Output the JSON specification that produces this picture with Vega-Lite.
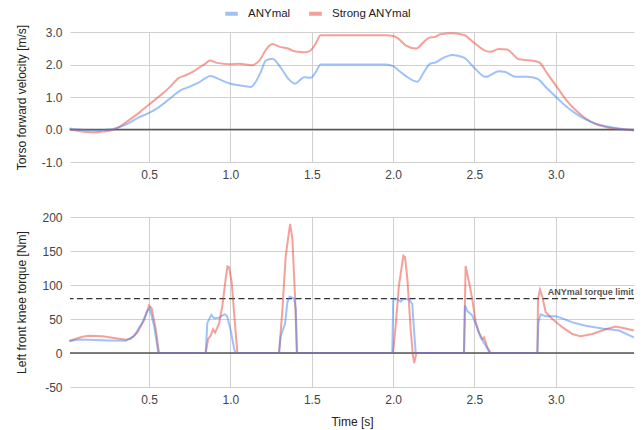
{
  "$schema": "https://vega.github.io/schema/vega-lite/v6.json",
  "padding": {"left": 15, "top": 5, "right": 8, "bottom": 5},
  "config": {
    "view": {"stroke": null},
    "font": "Liberation Sans",
    "axis": {"labelFont": "Liberation Sans", "labelFontSize": 12, "labelColor": "#444", "titleFont": "Liberation Sans", "titleFontSize": 12, "titleFontWeight": "normal", "titleColor": "#222", "gridColor": "#d0d0d0", "domain": false, "ticks": false, "labelPadding": 8, "labelOverlap": false},
    "legend": {"labelFont": "Liberation Sans", "labelFontSize": 11.5, "labelColor": "#222"}
  },
  "spacing": 31,
  "datasets": {
    "vel": [
      {"time":0.01,"robot":"Strong ANYmal","value":0.0},{"time":0.06,"robot":"Strong ANYmal","value":-0.04},{"time":0.10,"robot":"Strong ANYmal","value":-0.07},{"time":0.16,"robot":"Strong ANYmal","value":-0.09},{"time":0.22,"robot":"Strong ANYmal","value":-0.06},{"time":0.285,"robot":"Strong ANYmal","value":0.0},{"time":0.33,"robot":"Strong ANYmal","value":0.12},{"time":0.377,"robot":"Strong ANYmal","value":0.29},{"time":0.44,"robot":"Strong ANYmal","value":0.52},{"time":0.50,"robot":"Strong ANYmal","value":0.77},{"time":0.58,"robot":"Strong ANYmal","value":1.09},{"time":0.63,"robot":"Strong ANYmal","value":1.32},{"time":0.684,"robot":"Strong ANYmal","value":1.59},{"time":0.725,"robot":"Strong ANYmal","value":1.67},{"time":0.77,"robot":"Strong ANYmal","value":1.78},{"time":0.807,"robot":"Strong ANYmal","value":1.90},{"time":0.845,"robot":"Strong ANYmal","value":2.02},{"time":0.873,"robot":"Strong ANYmal","value":2.12},{"time":0.92,"robot":"Strong ANYmal","value":2.05},{"time":1.0,"robot":"Strong ANYmal","value":2.01},{"time":1.053,"robot":"Strong ANYmal","value":2.02},{"time":1.135,"robot":"Strong ANYmal","value":1.98},{"time":1.176,"robot":"Strong ANYmal","value":2.11},{"time":1.227,"robot":"Strong ANYmal","value":2.51},{"time":1.258,"robot":"Strong ANYmal","value":2.63},{"time":1.30,"robot":"Strong ANYmal","value":2.55},{"time":1.35,"robot":"Strong ANYmal","value":2.50},{"time":1.40,"robot":"Strong ANYmal","value":2.40},{"time":1.463,"robot":"Strong ANYmal","value":2.38},{"time":1.494,"robot":"Strong ANYmal","value":2.44},{"time":1.525,"robot":"Strong ANYmal","value":2.65},{"time":1.555,"robot":"Strong ANYmal","value":2.90},{"time":1.80,"robot":"Strong ANYmal","value":2.90},{"time":1.955,"robot":"Strong ANYmal","value":2.90},{"time":2.006,"robot":"Strong ANYmal","value":2.87},{"time":2.036,"robot":"Strong ANYmal","value":2.78},{"time":2.077,"robot":"Strong ANYmal","value":2.59},{"time":2.143,"robot":"Strong ANYmal","value":2.49},{"time":2.18,"robot":"Strong ANYmal","value":2.65},{"time":2.22,"robot":"Strong ANYmal","value":2.82},{"time":2.26,"robot":"Strong ANYmal","value":2.85},{"time":2.29,"robot":"Strong ANYmal","value":2.93},{"time":2.365,"robot":"Strong ANYmal","value":2.96},{"time":2.436,"robot":"Strong ANYmal","value":2.91},{"time":2.497,"robot":"Strong ANYmal","value":2.67},{"time":2.569,"robot":"Strong ANYmal","value":2.42},{"time":2.60,"robot":"Strong ANYmal","value":2.39},{"time":2.65,"robot":"Strong ANYmal","value":2.48},{"time":2.70,"robot":"Strong ANYmal","value":2.46},{"time":2.774,"robot":"Strong ANYmal","value":2.16},{"time":2.835,"robot":"Strong ANYmal","value":2.13},{"time":2.897,"robot":"Strong ANYmal","value":2.07},{"time":2.948,"robot":"Strong ANYmal","value":1.72},{"time":3.0,"robot":"Strong ANYmal","value":1.36},{"time":3.061,"robot":"Strong ANYmal","value":0.93},{"time":3.123,"robot":"Strong ANYmal","value":0.59},{"time":3.184,"robot":"Strong ANYmal","value":0.34},{"time":3.245,"robot":"Strong ANYmal","value":0.17},{"time":3.307,"robot":"Strong ANYmal","value":0.08},{"time":3.368,"robot":"Strong ANYmal","value":0.03},{"time":3.43,"robot":"Strong ANYmal","value":-0.01},{"time":3.48,"robot":"Strong ANYmal","value":-0.03},
      {"time":0.01,"robot":"ANYmal","value":0.03},{"time":0.08,"robot":"ANYmal","value":-0.01},{"time":0.152,"robot":"ANYmal","value":-0.03},{"time":0.254,"robot":"ANYmal","value":0.0},{"time":0.357,"robot":"ANYmal","value":0.15},{"time":0.44,"robot":"ANYmal","value":0.38},{"time":0.50,"robot":"ANYmal","value":0.51},{"time":0.561,"robot":"ANYmal","value":0.69},{"time":0.623,"robot":"ANYmal","value":0.93},{"time":0.695,"robot":"ANYmal","value":1.21},{"time":0.746,"robot":"ANYmal","value":1.31},{"time":0.807,"robot":"ANYmal","value":1.45},{"time":0.879,"robot":"ANYmal","value":1.65},{"time":0.93,"robot":"ANYmal","value":1.55},{"time":1.0,"robot":"ANYmal","value":1.41},{"time":1.053,"robot":"ANYmal","value":1.36},{"time":1.125,"robot":"ANYmal","value":1.31},{"time":1.156,"robot":"ANYmal","value":1.47},{"time":1.187,"robot":"ANYmal","value":1.77},{"time":1.217,"robot":"ANYmal","value":2.12},{"time":1.258,"robot":"ANYmal","value":2.18},{"time":1.31,"robot":"ANYmal","value":1.90},{"time":1.36,"robot":"ANYmal","value":1.54},{"time":1.398,"robot":"ANYmal","value":1.41},{"time":1.453,"robot":"ANYmal","value":1.61},{"time":1.494,"robot":"ANYmal","value":1.59},{"time":1.525,"robot":"ANYmal","value":1.77},{"time":1.555,"robot":"ANYmal","value":2.0},{"time":1.955,"robot":"ANYmal","value":2.0},{"time":2.0,"robot":"ANYmal","value":1.95},{"time":2.036,"robot":"ANYmal","value":1.81},{"time":2.077,"robot":"ANYmal","value":1.65},{"time":2.15,"robot":"ANYmal","value":1.47},{"time":2.19,"robot":"ANYmal","value":1.77},{"time":2.23,"robot":"ANYmal","value":2.03},{"time":2.26,"robot":"ANYmal","value":2.06},{"time":2.30,"robot":"ANYmal","value":2.18},{"time":2.365,"robot":"ANYmal","value":2.29},{"time":2.436,"robot":"ANYmal","value":2.21},{"time":2.497,"robot":"ANYmal","value":1.91},{"time":2.569,"robot":"ANYmal","value":1.62},{"time":2.65,"robot":"ANYmal","value":1.79},{"time":2.69,"robot":"ANYmal","value":1.77},{"time":2.753,"robot":"ANYmal","value":1.62},{"time":2.825,"robot":"ANYmal","value":1.62},{"time":2.887,"robot":"ANYmal","value":1.56},{"time":2.938,"robot":"ANYmal","value":1.31},{"time":3.0,"robot":"ANYmal","value":1.01},{"time":3.061,"robot":"ANYmal","value":0.72},{"time":3.123,"robot":"ANYmal","value":0.49},{"time":3.184,"robot":"ANYmal","value":0.31},{"time":3.245,"robot":"ANYmal","value":0.18},{"time":3.307,"robot":"ANYmal","value":0.10},{"time":3.368,"robot":"ANYmal","value":0.05},{"time":3.43,"robot":"ANYmal","value":0.01},{"time":3.48,"robot":"ANYmal","value":-0.02}
    ],
    "tor": [
      {"time":0.01,"robot":"Strong ANYmal","value":17.6},{"time":0.05,"robot":"Strong ANYmal","value":21},{"time":0.09,"robot":"Strong ANYmal","value":24},{"time":0.131,"robot":"Strong ANYmal","value":25.5},{"time":0.213,"robot":"Strong ANYmal","value":24.5},{"time":0.295,"robot":"Strong ANYmal","value":21.6},{"time":0.357,"robot":"Strong ANYmal","value":19.6},{"time":0.387,"robot":"Strong ANYmal","value":21},{"time":0.428,"robot":"Strong ANYmal","value":30},{"time":0.469,"robot":"Strong ANYmal","value":48},{"time":0.50,"robot":"Strong ANYmal","value":69.6},{"time":0.516,"robot":"Strong ANYmal","value":65.7},{"time":0.541,"robot":"Strong ANYmal","value":35},{"time":0.561,"robot":"Strong ANYmal","value":0},{"time":0.848,"robot":"Strong ANYmal","value":0},{"time":0.863,"robot":"Strong ANYmal","value":20.6},{"time":0.879,"robot":"Strong ANYmal","value":25.5},{"time":0.893,"robot":"Strong ANYmal","value":35},{"time":0.906,"robot":"Strong ANYmal","value":30},{"time":0.93,"robot":"Strong ANYmal","value":42.6},{"time":0.951,"robot":"Strong ANYmal","value":70},{"time":0.971,"robot":"Strong ANYmal","value":109},{"time":0.982,"robot":"Strong ANYmal","value":127.5},{"time":0.992,"robot":"Strong ANYmal","value":126},{"time":1.008,"robot":"Strong ANYmal","value":104},{"time":1.029,"robot":"Strong ANYmal","value":40},{"time":1.043,"robot":"Strong ANYmal","value":0},{"time":1.299,"robot":"Strong ANYmal","value":0},{"time":1.32,"robot":"Strong ANYmal","value":65},{"time":1.34,"robot":"Strong ANYmal","value":143},{"time":1.367,"robot":"Strong ANYmal","value":190},{"time":1.381,"robot":"Strong ANYmal","value":168},{"time":1.398,"robot":"Strong ANYmal","value":79},{"time":1.408,"robot":"Strong ANYmal","value":0},{"time":2.0,"robot":"Strong ANYmal","value":0},{"time":2.016,"robot":"Strong ANYmal","value":40},{"time":2.036,"robot":"Strong ANYmal","value":99},{"time":2.063,"robot":"Strong ANYmal","value":143},{"time":2.073,"robot":"Strong ANYmal","value":141},{"time":2.088,"robot":"Strong ANYmal","value":109},{"time":2.108,"robot":"Strong ANYmal","value":35},{"time":2.122,"robot":"Strong ANYmal","value":-4},{"time":2.13,"robot":"Strong ANYmal","value":-14.7},{"time":2.143,"robot":"Strong ANYmal","value":0},{"time":2.436,"robot":"Strong ANYmal","value":0},{"time":2.446,"robot":"Strong ANYmal","value":128},{"time":2.467,"robot":"Strong ANYmal","value":104},{"time":2.487,"robot":"Strong ANYmal","value":79},{"time":2.508,"robot":"Strong ANYmal","value":45},{"time":2.528,"robot":"Strong ANYmal","value":30},{"time":2.549,"robot":"Strong ANYmal","value":20.6},{"time":2.559,"robot":"Strong ANYmal","value":23},{"time":2.58,"robot":"Strong ANYmal","value":8},{"time":2.60,"robot":"Strong ANYmal","value":0},{"time":2.887,"robot":"Strong ANYmal","value":0},{"time":2.891,"robot":"Strong ANYmal","value":79},{"time":2.903,"robot":"Strong ANYmal","value":93},{"time":2.918,"robot":"Strong ANYmal","value":82},{"time":2.938,"robot":"Strong ANYmal","value":60},{"time":2.979,"robot":"Strong ANYmal","value":50},{"time":3.04,"robot":"Strong ANYmal","value":38},{"time":3.102,"robot":"Strong ANYmal","value":28},{"time":3.153,"robot":"Strong ANYmal","value":24.5},{"time":3.225,"robot":"Strong ANYmal","value":28},{"time":3.307,"robot":"Strong ANYmal","value":35},{"time":3.368,"robot":"Strong ANYmal","value":39},{"time":3.43,"robot":"Strong ANYmal","value":36},{"time":3.48,"robot":"Strong ANYmal","value":33},
      {"time":0.01,"robot":"ANYmal","value":17.6},{"time":0.07,"robot":"ANYmal","value":20},{"time":0.13,"robot":"ANYmal","value":19.6},{"time":0.25,"robot":"ANYmal","value":18.5},{"time":0.357,"robot":"ANYmal","value":18},{"time":0.408,"robot":"ANYmal","value":25},{"time":0.459,"robot":"ANYmal","value":45},{"time":0.49,"robot":"ANYmal","value":62},{"time":0.504,"robot":"ANYmal","value":65.7},{"time":0.531,"robot":"ANYmal","value":40},{"time":0.557,"robot":"ANYmal","value":0},{"time":0.848,"robot":"ANYmal","value":0},{"time":0.858,"robot":"ANYmal","value":44},{"time":0.883,"robot":"ANYmal","value":56},{"time":0.90,"robot":"ANYmal","value":51},{"time":0.93,"robot":"ANYmal","value":52},{"time":0.965,"robot":"ANYmal","value":57},{"time":0.98,"robot":"ANYmal","value":54},{"time":1.002,"robot":"ANYmal","value":33},{"time":1.023,"robot":"ANYmal","value":6},{"time":1.033,"robot":"ANYmal","value":0},{"time":1.299,"robot":"ANYmal","value":0},{"time":1.309,"robot":"ANYmal","value":25},{"time":1.336,"robot":"ANYmal","value":43},{"time":1.35,"robot":"ANYmal","value":74.5},{"time":1.365,"robot":"ANYmal","value":83},{"time":1.392,"robot":"ANYmal","value":80},{"time":1.402,"robot":"ANYmal","value":65},{"time":1.41,"robot":"ANYmal","value":0},{"time":1.995,"robot":"ANYmal","value":0},{"time":2.001,"robot":"ANYmal","value":79},{"time":2.026,"robot":"ANYmal","value":79},{"time":2.047,"robot":"ANYmal","value":75.5},{"time":2.061,"robot":"ANYmal","value":79},{"time":2.098,"robot":"ANYmal","value":79},{"time":2.118,"robot":"ANYmal","value":72},{"time":2.13,"robot":"ANYmal","value":30},{"time":2.139,"robot":"ANYmal","value":0},{"time":2.436,"robot":"ANYmal","value":0},{"time":2.442,"robot":"ANYmal","value":70},{"time":2.456,"robot":"ANYmal","value":62},{"time":2.487,"robot":"ANYmal","value":55},{"time":2.508,"robot":"ANYmal","value":43},{"time":2.538,"robot":"ANYmal","value":23},{"time":2.569,"robot":"ANYmal","value":11},{"time":2.59,"robot":"ANYmal","value":2},{"time":2.60,"robot":"ANYmal","value":0},{"time":2.887,"robot":"ANYmal","value":0},{"time":2.893,"robot":"ANYmal","value":45},{"time":2.907,"robot":"ANYmal","value":57},{"time":2.938,"robot":"ANYmal","value":54},{"time":3.0,"robot":"ANYmal","value":54},{"time":3.04,"robot":"ANYmal","value":51},{"time":3.102,"robot":"ANYmal","value":45},{"time":3.184,"robot":"ANYmal","value":40},{"time":3.286,"robot":"ANYmal","value":36},{"time":3.389,"robot":"ANYmal","value":33},{"time":3.48,"robot":"ANYmal","value":23}
    ],
    "limit": [{"time": 3.48, "value": 80, "label": "ANYmal torque limit"}]
  },
  "vconcat": [
    {
      "width": 564,
      "height": 130,
      "encoding": {
        "y": {"field": "value", "type": "quantitative", "scale": {"domain": [-1, 3], "nice": false}, "axis": {"values": [-1, 0, 1, 2, 3], "labelOverlap": false, "labelExpr": "datum.value < 0 ? '-' + format(-datum.value, '.1f') : format(datum.value, '.1f')", "title": "Torso forward velocity [m/s]", "titlePadding": 13}}
      },
      "layer": [
        {
          "data": {"values": [{"value": 0}]},
          "mark": {"type": "rule", "color": "#555", "strokeWidth": 1.5},
          "encoding": {}
        },
        {
          "data": {"name": "vel"},
          "mark": {"type": "line", "strokeWidth": 2, "strokeOpacity": 0.5, "interpolate": "monotone"},
          "encoding": {
            "x": {"field": "time", "type": "quantitative", "scale": {"domain": [0.014, 3.481], "nice": false, "zero": false}, "axis": {"values": [0.5, 1, 1.5, 2, 2.5, 3], "format": ".1f", "title": null, "labelPadding": 7}},
            "color": {"field": "robot", "type": "nominal", "scale": {"domain": ["ANYmal", "Strong ANYmal"], "range": ["#4285f4", "#ea4335"]}, "legend": {"orient": "none", "legendX": 153, "legendY": -27, "title": null, "direction": "horizontal", "symbolType": "stroke", "symbolStrokeWidth": 4, "symbolSize": 160, "symbolOpacity": 0.5, "columnPadding": 10, "labelOffset": 8}}
          }
        }
      ]
    },
    {
      "width": 564,
      "height": 170,
      "encoding": {
        "y": {"field": "value", "type": "quantitative", "scale": {"domain": [-50, 200], "nice": false}, "axis": {"values": [-50, 0, 50, 100, 150, 200], "labelOverlap": false, "labelExpr": "datum.value < 0 ? '-' + format(-datum.value, 'd') : format(datum.value, 'd')", "title": "Left front knee torque [Nm]", "titlePadding": 13}}
      },
      "layer": [
        {
          "data": {"values": [{"value": 0}]},
          "mark": {"type": "rule", "color": "#555", "strokeWidth": 1.5},
          "encoding": {}
        },
        {
          "data": {"name": "limit"},
          "mark": {"type": "rule", "color": "#333", "strokeWidth": 1.3, "strokeDash": [6, 3.5]},
          "encoding": {}
        },
        {
          "data": {"name": "limit"},
          "mark": {"type": "text", "align": "right", "baseline": "bottom", "dy": -2, "fontSize": 9, "fontWeight": "bold", "color": "#555", "font": "Liberation Sans"},
          "encoding": {
            "x": {"field": "time", "type": "quantitative"},
            "text": {"field": "label"}
          }
        },
        {
          "data": {"name": "tor"},
          "mark": {"type": "line", "strokeWidth": 2, "strokeOpacity": 0.5},
          "encoding": {
            "x": {"field": "time", "type": "quantitative", "scale": {"domain": [0.014, 3.481], "nice": false, "zero": false}, "axis": {"values": [0.5, 1, 1.5, 2, 2.5, 3], "format": ".1f", "title": "Time [s]", "labelPadding": 7, "titlePadding": 11}},
            "color": {"field": "robot", "type": "nominal", "scale": {"domain": ["ANYmal", "Strong ANYmal"], "range": ["#4285f4", "#ea4335"]}}
          }
        }
      ]
    }
  ]
}
